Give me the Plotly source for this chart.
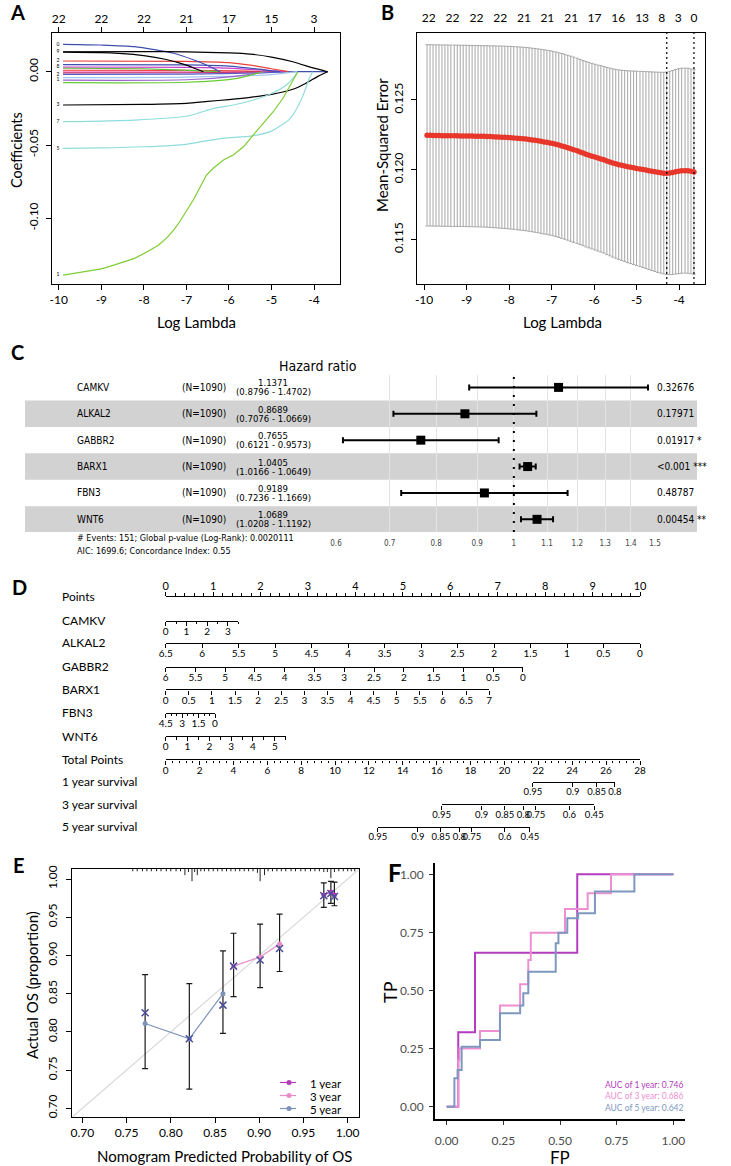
import plotly.graph_objects as go

W, H = 731, 1166
def X(px): return px / W
def Y(py): return 1 - py / H

SANS = "Lato, 'Open Sans', 'DejaVu Sans', sans-serif"
NARROW = "'Liberation Sans Narrow', 'Arial Narrow', 'DejaVu Sans Condensed', 'Liberation Sans', sans-serif"

# ======================= DATA =======================
# ---- Panel A: LASSO coefficient paths ----
a_ticks = [-10, -9, -8, -7, -6, -5, -4]
a_top_labels = ["22", "22", "22", "21", "17", "15", "3"]
a_yticks = [0.0, -0.05, -0.10]
a_path_x = [
    [-9.9, -3.68],
    [-9.9, -6.0, -5.6],
    [-9.9, -7.0, -5.8, -5.0],
    [-9.9, -7.0, -5.5, -4.9],
    [-9.9, -7.0, -5.2, -4.6],
    [-9.9, -7.0, -5.0, -4.4],
    [-9.9, -7.0, -5.8, -5.1],
    [-9.9, -7.0, -5.8, -5.2],
    [-9.9, -8.0, -6.8, -6.2],
    [-9.9, -7.0, -6.0, -5.3, -4.7],
    [-9.9, -7.0, -6.0, -5.3, -4.8],
    [-9.9, -7.0, -6.0, -5.5, -5.0, -4.6],
    [-9.9, -9.0, -8.22, -7.3, -6.82, -6.53, -6.29, -6.21],
    [-9.9, -9.0, -8.6, -8.0, -7.5, -7.0, -6.8, -6.6],
    [-9.9, -8.0, -7.0, -6.0, -5.5, -5.0, -4.5, -4.0, -3.68],
    [-9.9, -8.0, -7.0, -6.5, -6.0, -5.5, -5.0, -4.5, -4.2, -3.9, -3.68],
    [-9.9, -8.22, -6.97, -6.35, -5.9, -5.43, -4.96, -4.65, -4.45, -4.39],
    [-9.9, -9.0, -8.0, -7.0, -6.5, -6.0, -5.5, -5.0, -4.6, -4.45, -4.27, -4.11, -4.03],
    [-9.9, -9.66, -9.0, -8.69, -8.22, -7.9, -7.66, -7.45, -7.3, -7.15, -7.0, -6.85,
     -6.7, -6.53, -6.37, -6.13, -5.9, -5.66, -5.43, -5.2, -4.96, -4.73, -4.58, -4.38],
]
a_path_y = [
    [0.0, 0.0],
    [0.0002, 0.0001, 0.0],
    [0.0010, 0.0009, 0.0005, 0.0],
    [-0.0008, -0.0007, -0.0003, 0.0],
    [-0.0018, -0.0016, -0.0008, 0.0],
    [-0.0040, -0.0037, -0.0020, 0.0],
    [-0.0058, -0.0055, -0.0030, 0.0],
    [-0.0075, -0.0072, -0.0045, 0.0],
    [0.0025, 0.0020, 0.0008, 0.0],
    [0.0032, 0.0030, 0.0025, 0.0012, 0.0],
    [0.0048, 0.0046, 0.0038, 0.0018, 0.0],
    [0.0073, 0.0071, 0.0062, 0.0045, 0.0020, 0.0],
    [0.0187, 0.0182, 0.0171, 0.0126, 0.0080, 0.0046, 0.0012, 0.0],
    [0.0133, 0.0130, 0.0125, 0.0110, 0.0085, 0.0045, 0.0022, 0.0],
    [0.0136, 0.0137, 0.0135, 0.0128, 0.0120, 0.0100, 0.0068, 0.0024, 0.0],
    [-0.0227, -0.0223, -0.0216, -0.0203, -0.0190, -0.0175, -0.0155, -0.0120, -0.0080, -0.0030, 0.0],
    [-0.0341, -0.0330, -0.0302, -0.0250, -0.0227, -0.0193, -0.0143, -0.0091, -0.0029, 0.0],
    [-0.0523, -0.0520, -0.0512, -0.0495, -0.0470, -0.0450, -0.0440, -0.0405, -0.0330, -0.0273,
     -0.0170, -0.0045, 0.0],
    [-0.1387, -0.1375, -0.1345, -0.1318, -0.1273, -0.1225, -0.1183, -0.1130, -0.1080, -0.1020,
     -0.0950, -0.0880, -0.0800, -0.0705, -0.0659, -0.0602, -0.0568, -0.0512, -0.0432, -0.0352,
     -0.0273, -0.0181, -0.0106, 0.0],
]
a_path_color = ["#3F4FB0", "#FF99CC", "#E8413C", "#D0306A", "#5A5AC8", "#A0C8F0", "#9966CC",
                "#66CC33", "#5FBF3F", "#CC3FCC", "#3F4FB0", "#E8413C", "#3F4FB0", "#000000",
                "#000000", "#000000", "#8FDCDC", "#8FDCDC", "#7FCC33"]
a_path_label = ["", "", "", "", "2", "", "1", "", "", "8", "", "2", "0", "", "9", "3", "7", "5", "1"]

# ---- Panel B: cross-validation curve ----
b_loglam = [-9.93, -9.86, -9.79, -9.72, -9.65, -9.58, -9.51, -9.44, -9.37, -9.29,
            -9.22, -9.15, -9.08, -9.01, -8.94, -8.87, -8.80, -8.73, -8.66, -8.59,
            -8.52, -8.45, -8.38, -8.31, -8.24, -8.17, -8.10, -8.03, -7.96, -7.89,
            -7.81, -7.74, -7.67, -7.60, -7.53, -7.46, -7.39, -7.32, -7.25, -7.18,
            -7.11, -7.04, -6.97, -6.90, -6.83, -6.76, -6.69, -6.62, -6.55, -6.48,
            -6.40, -6.33, -6.26, -6.19, -6.12, -6.05, -5.98, -5.91, -5.84, -5.77,
            -5.70, -5.63, -5.56, -5.49, -5.42, -5.35, -5.28, -5.21, -5.14, -5.07,
            -5.00, -4.92, -4.85, -4.78, -4.71, -4.64, -4.57, -4.50, -4.43, -4.36,
            -4.29, -4.22, -4.15, -4.08, -4.01, -3.94, -3.86, -3.79, -3.72, -3.65]
b_mse = [0.12246, 0.12246, 0.12245, 0.12245, 0.12245, 0.12244, 0.12244, 0.12244, 0.12243, 0.12243,
         0.12243, 0.12242, 0.12242, 0.12242, 0.12241, 0.12241, 0.12240, 0.12240, 0.12239, 0.12239,
         0.12238, 0.12237, 0.12236, 0.12235, 0.12234, 0.12233, 0.12232, 0.12230, 0.12229, 0.12227,
         0.12225, 0.12223, 0.12221, 0.12219, 0.12216, 0.12213, 0.12210, 0.12207, 0.12203, 0.12199,
         0.12196, 0.12192, 0.12187, 0.12182, 0.12176, 0.12170, 0.12164, 0.12157, 0.12150, 0.12143,
         0.12135, 0.12127, 0.12119, 0.12111, 0.12104, 0.12097, 0.12090, 0.12083, 0.12077, 0.12071,
         0.12062, 0.12055, 0.12048, 0.12042, 0.12036, 0.12031, 0.12026, 0.12021, 0.12017, 0.12013,
         0.12009, 0.12005, 0.12001, 0.11997, 0.11993, 0.11989, 0.11985, 0.11981, 0.11978, 0.11975,
         0.11974, 0.11976, 0.11980, 0.11985, 0.11989, 0.11992, 0.11993, 0.11992, 0.11988, 0.11983]
b_se = [0.00650, 0.00650, 0.00650, 0.00650, 0.00650, 0.00650, 0.00650, 0.00650, 0.00650, 0.00650,
        0.00650, 0.00650, 0.00650, 0.00650, 0.00650, 0.00650, 0.00650, 0.00650, 0.00650, 0.00650,
        0.00651, 0.00651, 0.00652, 0.00652, 0.00653, 0.00653, 0.00654, 0.00654, 0.00655, 0.00655,
        0.00656, 0.00656, 0.00657, 0.00657, 0.00658, 0.00658, 0.00659, 0.00659, 0.00660, 0.00660,
        0.00660, 0.00661, 0.00661, 0.00662, 0.00662, 0.00663, 0.00663, 0.00663, 0.00664, 0.00664,
        0.00664, 0.00664, 0.00664, 0.00665, 0.00665, 0.00665, 0.00666, 0.00667, 0.00668, 0.00669,
        0.00671, 0.00673, 0.00675, 0.00677, 0.00679, 0.00682, 0.00685, 0.00688, 0.00691, 0.00694,
        0.00697, 0.00700, 0.00703, 0.00706, 0.00709, 0.00712, 0.00715, 0.00718, 0.00720, 0.00723,
        0.00726, 0.00729, 0.00731, 0.00733, 0.00735, 0.00735, 0.00735, 0.00735, 0.00734, 0.00734]
b_yticks = [0.115, 0.120, 0.125]
b_top_pos = [-9.89, -9.33, -8.77, -8.21, -7.65, -7.10, -6.54, -5.99, -5.43, -4.87, -4.41, -4.02, -3.65]
b_top_labels = ["22", "22", "22", "22", "21", "21", "21", "17", "16", "13", "8", "3", "0"]
b_lambda_min = -4.29
b_lambda_1se = -3.65

# ---- Panel C: multivariate Cox forest plot ----
c_genes = ["CAMKV", "ALKAL2", "GABBR2", "BARX1", "FBN3", "WNT6"]
c_n = [1090, 1090, 1090, 1090, 1090, 1090]
c_hr = [1.1371, 0.8689, 0.7655, 1.0405, 0.9189, 1.0689]
c_lo = [0.8796, 0.7076, 0.6121, 1.0166, 0.7236, 1.0208]
c_hi = [1.4702, 1.0669, 0.9573, 1.0649, 1.1669, 1.1192]
c_p = ["0.32676", "0.17971", "0.01917 *", "<0.001 ***", "0.48787", "0.00454 **"]
c_ticks = [0.6, 0.7, 0.8, 0.9, 1, 1.1, 1.2, 1.3, 1.4, 1.5]
c_note1 = "# Events: 151; Global p-value (Log-Rank): 0.0020111"
c_note2 = "AIC: 1699.6; Concordance Index: 0.55"

# ---- Panel D: nomogram (value range and the points it spans) ----
d_rows = [
    # label, lo value, hi value, points at lo, points at hi, labelled ticks, minor step
    ("Points", 0, 10, 0.0, 10.0, [0, 1, 2, 3, 4, 5, 6, 7, 8, 9, 10], 0.2),
    ("CAMKV", 0, 3.5, 0.0, 1.53, [0, 1, 2, 3], 0.5),
    ("ALKAL2", 6.5, 0, 0.0, 10.0, [6.5, 6, 5.5, 5, 4.5, 4, 3.5, 3, 2.5, 2, 1.5, 1, 0.5, 0], None),
    ("GABBR2", 6, 0, 0.0, 7.53, [6, 5.5, 5, 4.5, 4, 3.5, 3, 2.5, 2, 1.5, 1, 0.5, 0], None),
    ("BARX1", 0, 7, 0.0, 6.82, [0, 0.5, 1, 1.5, 2, 2.5, 3, 3.5, 4, 4.5, 5, 5.5, 6, 6.5, 7], None),
    ("FBN3", 4.5, 0, 0.0, 1.04, [4.5, 3, 1.5, 0], 0.5),
    ("WNT6", 0, 5.5, 0.0, 2.53, [0, 1, 2, 3, 4, 5], 0.5),
    ("Total Points", 0, 28, 0.0, 10.0, [0, 2, 4, 6, 8, 10, 12, 14, 16, 18, 20, 22, 24, 26, 28], 0.4),
]
d_surv_rows = [
    ("1 year survival", [0.95, 0.9, 0.85, 0.8], [21.67, 24.03, 25.44, 26.52]),
    ("3 year survival", [0.95, 0.9, 0.85, 0.8, 0.75, 0.6, 0.45], [16.29, 18.65, 20.03, 21.11, 21.86, 23.83, 25.30]),
    ("5 year survival", [0.95, 0.9, 0.85, 0.8, 0.75, 0.6, 0.45], [12.53, 14.89, 16.25, 17.33, 18.08, 20.03, 21.50]),
]
d_total_max = 28

# ---- Panel E: calibration curves ----
e_names = ["1 year", "3 year", "5 year"]
e_colors = ["#B43CB8", "#E88CC8", "#7D93BA"]
e_pred = [[0.973, 0.981, 0.985], [0.871, 0.901, 0.923], [0.771, 0.821, 0.859]]
e_obs = [[0.979, 0.983, 0.979], [0.886, 0.898, 0.915], [0.811, 0.791, 0.850]]
e_corr = [[0.978, 0.981, 0.977], [0.886, 0.894, 0.909], [0.825, 0.791, 0.835]]
e_lo = [[0.963, 0.968, 0.965], [0.846, 0.858, 0.879], [0.752, 0.725, 0.798]]
e_hi = [[0.995, 0.997, 0.996], [0.929, 0.941, 0.954], [0.875, 0.863, 0.906]]
e_rug_x = [0.757, 0.762, 0.768, 0.773, 0.778, 0.784, 0.789, 0.795, 0.800, 0.806, 0.811, 0.816,
           0.820, 0.824, 0.827, 0.830, 0.834, 0.838, 0.843, 0.848, 0.853, 0.858, 0.863, 0.868,
           0.873, 0.878, 0.883, 0.888, 0.893, 0.898, 0.901, 0.906, 0.910, 0.915, 0.920, 0.925,
           0.930, 0.936, 0.941, 0.947, 0.952, 0.958, 0.963, 0.968, 0.973, 0.977, 0.981, 0.985,
           0.990, 0.995, 1.000, 1.004, 1.008]
e_rug_len = [0.003, 0.003, 0.003, 0.003, 0.003, 0.003, 0.003, 0.003, 0.003, 0.003, 0.003, 0.008,
             0.004, 0.016, 0.004, 0.008, 0.003, 0.003, 0.003, 0.003, 0.003, 0.003, 0.003, 0.003,
             0.003, 0.003, 0.003, 0.003, 0.003, 0.005, 0.016, 0.008, 0.003, 0.003, 0.003, 0.003,
             0.003, 0.003, 0.003, 0.003, 0.003, 0.003, 0.003, 0.003, 0.004, 0.004, 0.012, 0.004,
             0.003, 0.003, 0.003, 0.003, 0.003]
e_ticks = [0.70, 0.75, 0.80, 0.85, 0.90, 0.95, 1.00]

# ---- Panel F: time-dependent ROC (step vertices) ----
f_names = ["1 year", "3 year", "5 year"]
f_auc = [0.746, 0.686, 0.642]
f_colors = ["#B43CC0", "#EE8FD2", "#7E97BE"]
f_fp = [
    [0.0, 0.051, 0.125, 0.576, 1.0],
    [0.0, 0.051, 0.056, 0.147, 0.235, 0.324, 0.360, 0.371, 0.522, 0.622, 0.725, 1.0],
    [0.0, 0.034, 0.048, 0.066, 0.147, 0.235, 0.324, 0.338, 0.360, 0.481, 0.493, 0.532, 0.580, 0.654, 0.828, 1.0],
]
f_tp = [
    [0.0, 0.320, 0.663, 1.0, 1.0],
    [0.0, 0.200, 0.251, 0.326, 0.435, 0.527, 0.631, 0.749, 0.851, 0.918, 1.0, 1.0],
    [0.0, 0.122, 0.158, 0.258, 0.287, 0.402, 0.435, 0.488, 0.581, 0.703, 0.749, 0.811, 0.832, 0.926, 1.0, 1.0],
]
f_ticks = [0.0, 0.25, 0.5, 0.75, 1.0]

# ======================= FIGURE =======================
fig = go.Figure()
layout = {}
annotations = []
shapes = []

def ann(text, xpx, ypx, size=12, xanchor="center", yanchor="middle", textangle=0,
        color="black", family=SANS, **kw):
    d = dict(text=text, x=X(xpx), y=Y(ypx), xref="paper", yref="paper", showarrow=False,
             xanchor=xanchor, yanchor=yanchor, textangle=textangle,
             font=dict(size=size, color=color, family=family))
    d.update(kw)
    annotations.append(d)

def fmt(v):
    return ("%g" % v)

rbox = dict(showline=True, linecolor="black", linewidth=1.3, mirror=True, ticks="outside",
            ticklen=5, tickwidth=1.2, tickcolor="black", showgrid=False, zeroline=False,
            tickangle=0, tickfont=dict(family=SANS, size=12, color="black"))

# ---------- Panel A ----------
for xs, ys, col in zip(a_path_x, a_path_y, a_path_color):
    smooth = len(xs) < 20
    fig.add_trace(go.Scatter(x=xs, y=ys, mode="lines", xaxis="x", yaxis="y",
                             line=dict(color=col, width=1.2, shape="spline" if smooth else "linear",
                                       smoothing=0.6),
                             showlegend=False, hoverinfo="skip"))
lab_x = [p[0] - 0.12 for p, l in zip(a_path_x, a_path_label) if l]
lab_y = [p[0] for p, l in zip(a_path_y, a_path_label) if l]
lab_t = [l for l in a_path_label if l]
fig.add_trace(go.Scatter(x=lab_x, y=lab_y, text=lab_t, mode="text", xaxis="x", yaxis="y",
                         textfont=dict(size=5, color="black", family=SANS),
                         showlegend=False, hoverinfo="skip"))
fig.add_trace(go.Scatter(x=[a_ticks[0]], y=[0], mode="markers", marker=dict(opacity=0),
                         xaxis="x2", yaxis="y", showlegend=False, hoverinfo="skip"))
A_XR = [-10.16, -3.39]
layout["xaxis"] = dict(domain=[X(52), X(340)], range=A_XR, anchor="y", tickvals=a_ticks,
                       ticktext=[str(v) for v in a_ticks], ticklabelstandoff=-1, **rbox)
layout["xaxis2"] = dict(overlaying="x", side="top", anchor="y", range=A_XR, tickvals=a_ticks,
                        ticktext=a_top_labels, ticks="outside", ticklen=5, tickwidth=1.2,
                        tickcolor="black", showgrid=False, zeroline=False, showline=False,
                        tickangle=0, ticklabelstandoff=-1,
                        tickfont=dict(family=SANS, size=12, color="black"))
yb = dict(rbox); yb["tickangle"] = -90
layout["yaxis"] = dict(domain=[Y(284), Y(33)], range=[-0.1448, 0.0264], anchor="x",
                       tickvals=a_yticks, ticktext=["%.2f" % v for v in a_yticks],
                       ticklabelstandoff=3, **yb)
ann("<b>A</b>", 17, 12, size=20)
ann("Coefficients", 16, 150, size=14.5, textangle=-90)
ann("Log Lambda", 196, 322, size=15)

# ---------- Panel B ----------
fig.add_trace(go.Scatter(x=b_loglam, y=b_mse, mode="markers", xaxis="x3", yaxis="y3",
                         marker=dict(color="#E8362B", size=5.5, line=dict(width=0)),
                         error_y=dict(type="data", array=b_se, color="#A6A6A6", thickness=1, width=1.6),
                         showlegend=False, hoverinfo="skip"))
fig.add_trace(go.Scatter(x=[b_top_pos[0]], y=[b_mse[0]], mode="markers", marker=dict(opacity=0),
                         xaxis="x4", yaxis="y3", showlegend=False, hoverinfo="skip"))
layout["xaxis3"] = dict(domain=[X(417.3), X(705)], range=A_XR, anchor="y3", tickvals=a_ticks,
                        ticktext=[str(v) for v in a_ticks], ticklabelstandoff=-1, **rbox)
layout["xaxis4"] = dict(overlaying="x3", side="top", anchor="y3", range=A_XR, tickvals=b_top_pos,
                        ticktext=b_top_labels, ticks="", showgrid=False, zeroline=False,
                        showline=False, tickangle=0, ticklabelstandoff=8,
                        tickfont=dict(family=SANS, size=12, color="black"))
layout["yaxis3"] = dict(domain=[Y(284), Y(33)], range=[0.1118, 0.1298], anchor="x3",
                        tickvals=b_yticks, ticktext=["%.3f" % v for v in b_yticks],
                        ticklabelstandoff=3, **yb)
for lx in (b_lambda_min, b_lambda_1se):
    shapes.append(dict(type="line", xref="x3", yref="y3 domain", x0=lx, x1=lx, y0=0, y1=1,
                       line=dict(color="black", width=1.2, dash="2px,3px")))
ann("<b>B</b>", 387, 12, size=20)
ann("Mean-Squared Error", 382, 145, size=15, textangle=-90)
ann("Log Lambda", 562, 322, size=15)

# ---------- Panel C ----------
c_idx = list(range(len(c_genes)))
for i in c_idx:
    if i % 2 == 1:
        shapes.append(dict(type="rect", xref="paper", yref="y5", x0=X(25), x1=X(697),
                           y0=i - 0.5, y1=i + 0.5, fillcolor="#D2D2D2", line=dict(width=0),
                           layer="between"))
shapes.append(dict(type="line", xref="x5", yref="y5 domain", x0=1, x1=1, y0=0, y1=1,
                   line=dict(color="black", width=2, dash="2px,7px")))
fig.add_trace(go.Scatter(x=c_hr, y=c_idx, mode="markers", xaxis="x5", yaxis="y5",
                         marker=dict(symbol="square", size=9, color="black"),
                         error_x=dict(type="data", symmetric=False,
                                      array=[h - r for h, r in zip(c_hi, c_hr)],
                                      arrayminus=[r - l for r, l in zip(c_hr, c_lo)],
                                      color="black", thickness=2, width=3),
                         showlegend=False, hoverinfo="skip", cliponaxis=False))
layout["xaxis5"] = dict(domain=[X(336), X(655)], type="log", range=[-0.2218487, 0.1760913],
                        anchor="y5", tickvals=c_ticks, ticktext=[fmt(v) for v in c_ticks],
                        showgrid=True, gridcolor="#E3E3E3", gridwidth=1, zeroline=False,
                        showline=False, ticks="", ticklabelstandoff=5, tickangle=0,
                        tickfont=dict(family=NARROW, size=8, color="#444444"))
layout["yaxis5"] = dict(domain=[Y(532), Y(375)], range=[5.48, -0.47], anchor="x5",
                        visible=False, showgrid=False, zeroline=False)
ROW0, ROWD = 387.3, 26.4
for i, g in enumerate(c_genes):
    yc = ROW0 + i * ROWD
    ann(g, 75, yc, size=10, xanchor="left", family=NARROW)
    ann("(N=%d)" % c_n[i], 180, yc, size=10, xanchor="left", family=NARROW)
    ann("%.4f" % c_hr[i], 273, yc - 4.5, size=9.5, family=NARROW)
    ann("(%.4f - %.4f)" % (c_lo[i], c_hi[i]), 273, yc + 4.5, size=9.5, family=NARROW)
    ann(c_p[i], 655, yc, size=10, xanchor="left", family=NARROW)
ann("Hazard ratio", 318, 366, size=14, family=NARROW)
ann(c_note1, 75, 538, size=9, xanchor="left", family=NARROW)
ann(c_note2, 75, 551, size=9, xanchor="left", family=NARROW)
ann("<b>C</b>", 17, 352, size=20)

# ---------- Panel D ----------
D_X0, D_PPP = 165.7, 47.43          # pixel of 0 points, pixels per point
d_line_y = [596.7, 620.7, 642.7, 666.7, 689.3, 712.7, 736.0, 759.3, 781.7, 804.3, 826.8]
ax_k = 6
all_rows = []
for (lab, lo, hi, p0, p1, labs, minor) in d_rows:
    all_rows.append((lab, lo, hi, p0, p1, labs, [fmt(v) for v in labs], minor))
for (lab, vals, tot) in d_surv_rows:
    p0 = min(tot) * 10.0 / d_total_max
    p1 = max(tot) * 10.0 / d_total_max
    all_rows.append((lab, min(tot), max(tot), p0, p1, tot, [fmt(v) for v in vals], None))
for r, (lab, lo, hi, p0, p1, tv, tt, minor) in enumerate(all_rows):
    ypx = d_line_y[r]
    top = (r == 0)
    surv = r >= len(d_rows)
    xa, ya = "xaxis%d" % ax_k, "yaxis%d" % ax_k
    xr, yr = "x%d" % ax_k, "y%d" % ax_k
    fig.add_trace(go.Scatter(x=[lo], y=[0], mode="markers", marker=dict(opacity=0),
                             xaxis=xr, yaxis=yr, showlegend=False, hoverinfo="skip"))
    xd = dict(domain=[X(D_X0 + p0 * D_PPP), X(D_X0 + p1 * D_PPP)], range=[lo, hi], anchor=yr,
              side="top" if top else "bottom", showline=True, linecolor="black", linewidth=1.4,
              ticks="outside", ticklen=4, tickwidth=1.2, tickcolor="black", tickvals=tv,
              ticktext=tt, showgrid=False, zeroline=False, tickangle=0,
              ticklabelstandoff=-3,
              tickfont=dict(family=SANS, size=11 if top else (9.5 if surv else 10), color="black"))
    if minor:
        xd["minor"] = dict(dtick=minor, tick0=0, ticks="outside", ticklen=2.5, tickwidth=1,
                           tickcolor="black", showgrid=False)
    layout[xa] = xd
    yl = Y(ypx)
    layout[ya] = dict(domain=[yl - 0.001, yl] if top else [yl, yl + 0.001], range=[0, 1],
                      anchor=xr, visible=False)
    ann(lab, 60, ypx, size=12, xanchor="left")
    ax_k += 1
ann("<b>D</b>", 19, 587, size=20)

# ---------- Panel E ----------
EX, EY = "x%d" % ax_k, "y%d" % ax_k
E_XR, E_YR = [0.688, 1.0128], [0.6882, 1.0131]
fig.add_trace(go.Scatter(x=E_XR, y=E_XR, mode="lines", xaxis=EX, yaxis=EY,
                         line=dict(color="#D9D9D9", width=1.2), showlegend=False, hoverinfo="skip"))
rx, ry = [], []
for xv, ln in zip(e_rug_x, e_rug_len):
    rx += [xv, xv, None]
    ry += [E_YR[1], E_YR[1] - ln, None]
fig.add_trace(go.Scatter(x=rx, y=ry, mode="lines", xaxis=EX, yaxis=EY,
                         line=dict(color="#222222", width=1), showlegend=False, hoverinfo="skip"))
for k in range(3):
    fig.add_trace(go.Scatter(x=e_pred[k], y=e_obs[k], mode="markers", xaxis=EX, yaxis=EY,
                             marker=dict(opacity=0, size=2),
                             error_y=dict(type="data", symmetric=False,
                                          array=[h - o for h, o in zip(e_hi[k], e_obs[k])],
                                          arrayminus=[o - l for o, l in zip(e_obs[k], e_lo[k])],
                                          color="#1A1A1A", thickness=1.2, width=3),
                             showlegend=False, hoverinfo="skip"))
for k in range(3):
    fig.add_trace(go.Scatter(x=e_pred[k], y=e_obs[k], mode="lines+markers", name=e_names[k],
                             xaxis=EX, yaxis=EY, line=dict(color=e_colors[k], width=1.2),
                             marker=dict(color=e_colors[k], size=5), showlegend=False,
                             hoverinfo="skip"))
for k in range(3):
    fig.add_trace(go.Scatter(x=e_pred[k], y=e_corr[k], mode="markers", xaxis=EX, yaxis=EY,
                             marker=dict(symbol="x-thin", size=7, line=dict(color="#4B4B9B", width=1.5)),
                             showlegend=False, hoverinfo="skip"))
layout["xaxis%d" % ax_k] = dict(domain=[X(71.7), X(359)], range=E_XR, anchor=EY, tickvals=e_ticks,
                                ticktext=["%.2f" % v for v in e_ticks], ticklabelstandoff=-1, **rbox)
layout["yaxis%d" % ax_k] = dict(domain=[Y(1117.3), Y(869)], range=E_YR, anchor=EX, tickvals=e_ticks,
                                ticktext=["%.2f" % v for v in e_ticks],
                                ticklabelstandoff=4, **yb)
# legend keys (line with a dot) and labels
for k in range(3):
    ly = 1082.5 + k * 13.0
    shapes.append(dict(type="line", xref="paper", yref="paper", x0=X(280), x1=X(296),
                       y0=Y(ly), y1=Y(ly), line=dict(color=e_colors[k], width=1.2)))
    shapes.append(dict(type="circle", xref="paper", yref="paper", xsizemode="pixel",
                       ysizemode="pixel", xanchor=X(289), yanchor=Y(ly), x0=-2.5, x1=2.5,
                       y0=-2.5, y1=2.5, fillcolor=e_colors[k], line=dict(width=0)))
    ann(e_names[k], 309, ly, size=11.5, xanchor="left", height=12, borderpad=0)
ann("<b>E</b>", 19, 865, size=20)
ann("Actual OS (proportion)", 32, 985, size=15, textangle=-90)
ann("Nomogram Predicted Probability of OS", 224, 1156, size=15)
ax_k += 1

# ---------- Panel F ----------
FX, FY = "x%d" % ax_k, "y%d" % ax_k
for k in range(3):
    fig.add_trace(go.Scatter(x=f_fp[k], y=f_tp[k], mode="lines", xaxis=FX, yaxis=FY,
                             line=dict(color=f_colors[k], width=2, shape="hv"),
                             showlegend=False, hoverinfo="skip"))
fbox = dict(showline=True, linecolor="black", linewidth=2, mirror=False, ticks="outside",
            ticklen=4, tickwidth=1, tickcolor="#333333", showgrid=False, zeroline=False,
            tickangle=0, tickfont=dict(family=SANS, size=12, color="#4D4D4D"))
layout["xaxis%d" % ax_k] = dict(domain=[X(435), X(685)], range=[-0.0516, 1.0514], anchor=FY,
                                tickvals=f_ticks, ticktext=["%.2f" % v for v in f_ticks],
                                ticklabelstandoff=5, **fbox)
layout["yaxis%d" % ax_k] = dict(domain=[Y(1119.3), Y(863)], range=[-0.0542, 1.0487], anchor=FX,
                                tickvals=f_ticks, ticktext=["%.2f" % v for v in f_ticks],
                                ticklabelstandoff=3, **fbox)
for k in range(3):
    ann("AUC of %s: %.3f" % (f_names[k], f_auc[k]), 603, 1085 + k * 11.3, size=8.5,
        xanchor="left", color=f_colors[k])
ann("<b>F</b>", 395, 872, size=24)
ann("TP", 390, 992, size=18, textangle=-90)
ann("FP", 560, 1157, size=17, height=16, borderpad=0)

layout.update(dict(
    width=W, height=H, autosize=False, margin=dict(l=0, r=0, t=0, b=0),
    paper_bgcolor="white", plot_bgcolor="white", template="none",
    font=dict(family=SANS, color="black"), showlegend=False,
    annotations=annotations, shapes=shapes,
))
fig.update_layout(**layout)
fig.write_html("out.html", config={"displayModeBar": False},
               post_script="document.body.style.margin='0px';")
